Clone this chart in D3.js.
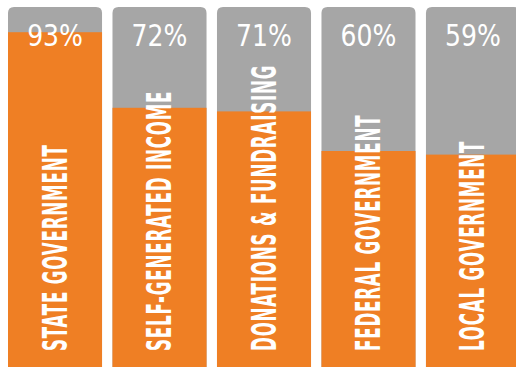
<!DOCTYPE html>
<html>
<head>
<meta charset="utf-8">
<script src="https://cdn.jsdelivr.net/npm/d3@7"></script>
<style>
  body { margin: 0; background: #fff; }
  svg { display: block; }
</style>
</head>
<body>
<div class="chart"></div>
<script>
// chart data
var categories = ["STATE GOVERNMENT", "SELF-GENERATED INCOME", "DONATIONS & FUNDRAISING", "FEDERAL GOVERNMENT", "LOCAL GOVERNMENT"];
var values = [93, 72, 71, 60, 59];
var valueLabels = ["93%", "72%", "71%", "60%", "59%"];

function init() {
  var w = 516;
  var h = 367;
  var orange = "#ef7f24";
  var grey = "#a6a6a6";
  var radius = 6;

  var svg = d3.select(".chart")
    .append("svg")
    .attr("width", w)
    .attr("height", h);

  // band scale for the columns, last one runs off the right edge
  var xScale = d3.scaleBand()
    .domain(categories)
    .range([8, 520])
    .paddingInner(0.1)
    .paddingOuter(0);

  // full column = 100%
  var yScale = d3.scaleLinear()
    .domain([0, 100])
    .range([h, 7]);

  var bw = xScale.bandwidth();

  // grey background column with rounded top corners
  function topRounded(x, y, width, height, r) {
    return "M" + x + "," + (y + height) +
      "V" + (y + r) +
      "Q" + x + "," + y + " " + (x + r) + "," + y +
      "H" + (x + width - r) +
      "Q" + (x + width) + "," + y + " " + (x + width) + "," + (y + r) +
      "V" + (y + height) + "Z";
  }

  var cols = svg.selectAll(".col")
    .data(categories)
    .enter()
    .append("g")
    .attr("class", "col");

  cols.append("path")
    .attr("d", function (d) {
      return topRounded(xScale(d), yScale(100), bw, yScale(0) - yScale(100), radius);
    })
    .attr("fill", grey);

  // orange value part
  cols.append("rect")
    .attr("x", function (d) { return xScale(d); })
    .attr("y", function (d, i) { return yScale(values[i]); })
    .attr("width", bw)
    .attr("height", function (d, i) { return yScale(0) - yScale(values[i]); })
    .attr("fill", orange);

  // percentage at the top
  cols.append("text")
    .attr("transform", function (d) {
      return "translate(" + (xScale(d) + bw / 2) + ",46) scale(0.9,1)";
    })
    .attr("text-anchor", "middle")
    .style("font-family", "'DejaVu Sans Condensed', sans-serif")
    .style("font-size", "31px")
    .style("fill", "#fff")
    .text(function (d, i) { return valueLabels[i]; });

  // vertical category labels, read bottom to top
  cols.append("text")
    .attr("transform", function (d) {
      return "translate(" + (xScale(d) + bw / 2 + 11.5) + "," + 351 + ") rotate(-90) scale(0.56,1)";
    })
    .attr("text-anchor", "start")
    .style("font-family", "'DejaVu Sans Condensed', sans-serif")
    .style("font-weight", "bold")
    .style("font-size", "33px")
    .style("letter-spacing", "1.5px")
    .style("fill", "#fff")
    .text(function (d) { return d; });
}
window.onload = init;
</script>
</body>
</html>
